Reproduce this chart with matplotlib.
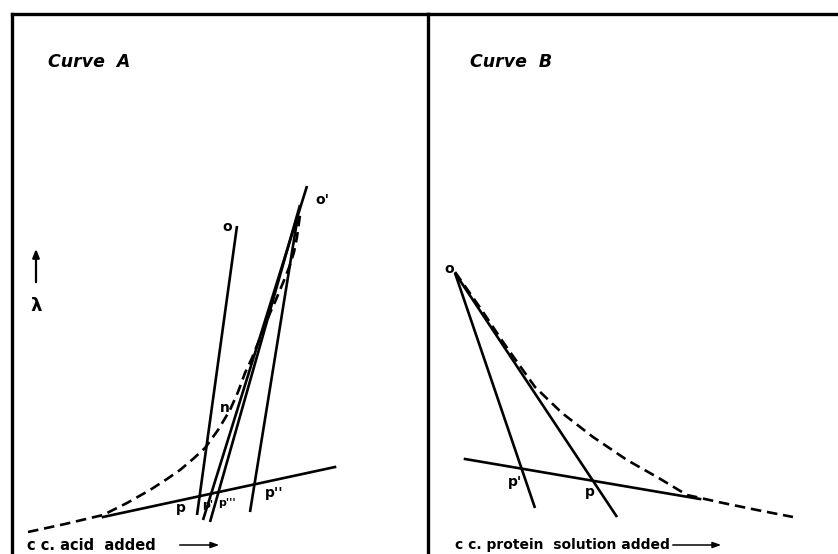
import matplotlib
matplotlib.use('Agg')
import matplotlib.pyplot as plt

# panel A  (units = pixels inside the panel, y upwards)
curve_a_x = [16, 53, 91, 115, 138, 155, 168, 181, 193, 206, 218, 226, 233, 240, 246, 252, 258, 263, 268, 273, 278, 282, 285, 288]
curve_a_y = [22, 30, 39, 51, 64, 75, 84, 95, 106, 124, 144, 162, 181, 196, 211, 226, 241, 252, 264, 276, 289, 302, 317, 339]
base_a_x = [91, 323]
base_a_y = [37, 87]
# straight lines: (x0, y0, x1, y1)
line_o = [225, 328, 185, 39]
line_o1 = [295, 368, 191, 34]
line_o2 = [288, 349, 198, 32]
line_p2 = [286, 339, 238, 42]
labels_a = ['o', "o'", 'n', 'p', "p'", "p'''", "p''"]
labels_a_x = [210, 303, 208, 164, 190, 206, 253]
labels_a_y = [327, 354, 146, 46, 49, 51, 61]

# panel B
curve_b_x = [27, 53, 75, 92, 107, 134, 165, 199, 229, 259, 295, 329, 365]
curve_b_y = [282, 245, 212, 188, 167, 141, 117, 94, 77, 59, 51, 44, 37]
base_b_x = [37, 272]
base_b_y = [95, 55]
line_b1 = [27, 281, 107, 46]
line_b2 = [27, 281, 189, 37]
labels_b = ['o', "p'", 'p']
labels_b_x = [16, 80, 157]
labels_b_y = [285, 72, 62]

W, H = 838, 554
fig = plt.figure(figsize=(W / 100, H / 100), dpi=100)
axA = fig.add_axes([12 / W, 0, 416 / W, 540 / H])
axB = fig.add_axes([428 / W, 0, 410 / W, 540 / H])
axA.set_xlim(0, 416)
axB.set_xlim(0, 410)
for ax in (axA, axB):
    ax.set_ylim(0, 540)
    ax.set_xticks([])
    ax.set_yticks([])
    ax.patch.set_alpha(0)
    for s in ax.spines.values():
        s.set_linewidth(2.4)
        s.set_color('black')
    ax.spines['bottom'].set_visible(False)
axB.spines['left'].set_visible(False)
axB.spines['right'].set_visible(False)

lw = 1.9
dash = (0, (4, 2.2))

def seg(ax, l):
    ax.plot([l[0], l[2]], [l[1], l[3]], color='black', lw=lw, solid_capstyle='butt')

# ---- Curve A
axA.plot(curve_a_x, curve_a_y, color='black', lw=lw, linestyle=dash)
axA.plot(base_a_x, base_a_y, color='black', lw=lw)
for l in (line_o, line_o1, line_o2, line_p2):
    seg(axA, l)
for t, x, y in zip(labels_a, labels_a_x, labels_a_y):
    fs = 8 if t in ("p'", "p'''") else 10
    axA.text(x, y, t, fontsize=fs, fontweight='bold', ha='left', va='center')
axA.text(36, 492, 'Curve  A', fontsize=12.5, fontweight='bold', style='oblique',
         ha='left', va='center')
axA.annotate('', xy=(24, 308), xytext=(24, 269),
             arrowprops=dict(arrowstyle='-|>,head_length=0.5,head_width=0.2',
                             color='black', lw=1.6))
axA.text(24, 248, 'λ', fontsize=13, fontweight='bold', ha='center', va='center')
axA.text(15, 9, 'c c. acid  added', fontsize=10.5, fontweight='bold',
         ha='left', va='center')
axA.annotate('', xy=(210, 9), xytext=(165, 9),
             arrowprops=dict(arrowstyle='-|>,head_length=0.5,head_width=0.18',
                             color='black', lw=1.1))

# ---- Curve B
axB.plot(curve_b_x, curve_b_y, color='black', lw=lw, linestyle=dash)
axB.plot(base_b_x, base_b_y, color='black', lw=lw)
for l in (line_b1, line_b2):
    seg(axB, l)
for t, x, y in zip(labels_b, labels_b_x, labels_b_y):
    axB.text(x, y, t, fontsize=10, fontweight='bold', ha='left', va='center')
axB.text(42, 492, 'Curve  B', fontsize=12.5, fontweight='bold', style='oblique',
         ha='left', va='center')
axB.text(27, 9, 'c c. protein  solution added', fontsize=10, fontweight='bold',
         ha='left', va='center')
axB.annotate('', xy=(296, 9), xytext=(242, 9),
             arrowprops=dict(arrowstyle='-|>,head_length=0.5,head_width=0.18',
                             color='black', lw=1.1))

fig.savefig('out.png', dpi=100, facecolor='white')
